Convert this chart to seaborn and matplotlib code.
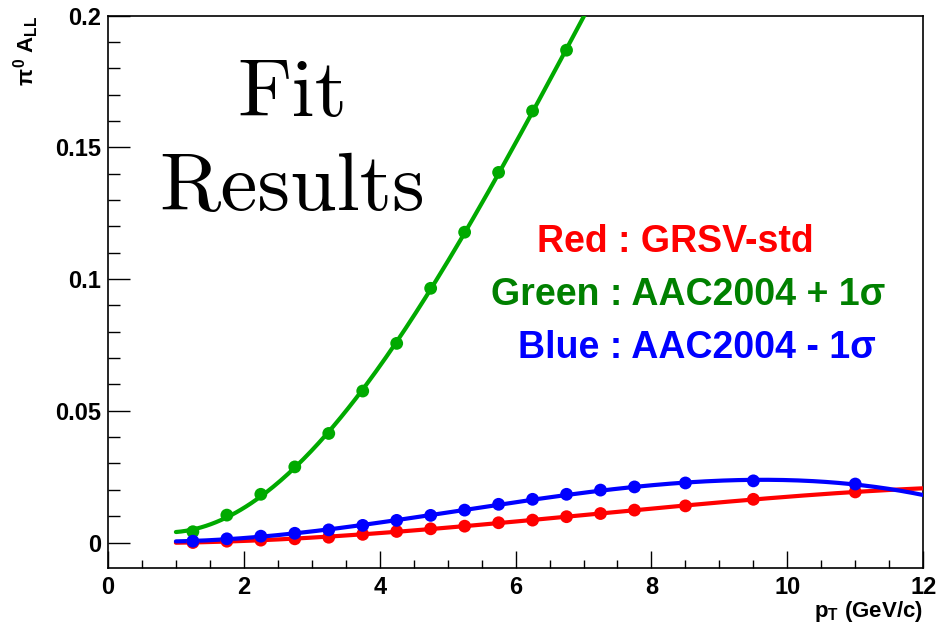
import numpy as np
import pandas as pd
import seaborn as sns
import matplotlib
matplotlib.use("Agg")
import matplotlib.pyplot as plt
from matplotlib.ticker import MultipleLocator, FuncFormatter

# ---- data ----
x_pt = [1.25, 1.75, 2.25, 2.75, 3.25, 3.75, 4.25, 4.75, 5.25, 5.75, 6.25, 6.75,
        7.25, 7.75, 8.5, 9.5, 11.0]
red_vals = [0.0000, 0.0005, 0.0009, 0.0014, 0.0020, 0.0031, 0.0042, 0.0052, 0.0062,
            0.0075, 0.0085, 0.0098, 0.0110, 0.0123, 0.0139, 0.0164, 0.0192]
blue_vals = [0.0005, 0.0014, 0.0024, 0.0035, 0.0048, 0.0065, 0.0084, 0.0103, 0.0123,
             0.0145, 0.0164, 0.0183, 0.0199, 0.0211, 0.0226, 0.0234, 0.0222]
x_green = [1.25, 1.75, 2.25, 2.75, 3.25, 3.75, 4.25, 4.75, 5.25, 5.75, 6.25, 6.75]
green_vals = [0.0041, 0.0104, 0.0183, 0.0287, 0.0414, 0.0575, 0.0756, 0.0965,
              0.1178, 0.1405, 0.1638, 0.1869]
fit_range = [1.0, 12.0]
legend_lines = [("Red : GRSV-std", ""), ("Green : AAC2004 + 1", "σ"),
                ("Blue : AAC2004 - 1", "σ")]

sns.set_style("white")
plt.rcParams["font.family"] = ["Liberation Sans", "DejaVu Sans"]
plt.rcParams["font.weight"] = "bold"
plt.rcParams["text.color"] = "black"
plt.rcParams["xtick.color"] = "black"
plt.rcParams["ytick.color"] = "black"
plt.rcParams["mathtext.fontset"] = "custom"
plt.rcParams["mathtext.rm"] = "Liberation Sans:bold"
plt.rcParams["mathtext.bf"] = "Liberation Sans:bold"
plt.rcParams["mathtext.it"] = "Liberation Sans:bold"

RED = "#ff0000"
BLUE = "#0000ff"
GREEN_LINE = "#00aa00"
GREEN_TEXT = "#008000"

fig = plt.figure(figsize=(9.43, 6.27), dpi=100)
ax = fig.add_axes([0.1145, 0.094, 0.8645, 0.881])

xf = np.linspace(fit_range[0], fit_range[1], 300)

def fit_curve(xs, ys, deg=3):
    c = np.polyfit(xs, ys, deg)
    return np.polyval(c, xf)

series = [
    (x_pt, red_vals, RED),
    (x_green, green_vals, GREEN_LINE),
    (x_pt, blue_vals, BLUE),
]
for xs, ys, col in series:
    fit_df = pd.DataFrame({"x": xf, "y": fit_curve(xs, ys)})
    sns.lineplot(data=fit_df, x="x", y="y", ax=ax, color=col, lw=3.0,
                 sort=False, zorder=3)
    pt_df = pd.DataFrame({"x": xs, "y": ys})
    sns.scatterplot(data=pt_df, x="x", y="y", ax=ax, color=col, s=85,
                    edgecolor="none", zorder=4)

ax.set_xlim(0, 12)
ax.set_ylim(-0.0097, 0.2)
ax.xaxis.set_major_locator(MultipleLocator(2))
ax.xaxis.set_minor_locator(MultipleLocator(0.5))
ax.yaxis.set_major_locator(MultipleLocator(0.05))
ax.yaxis.set_minor_locator(MultipleLocator(0.01))
ax.yaxis.set_major_formatter(FuncFormatter(lambda v, p: f"{v:g}"))
ax.xaxis.set_major_formatter(FuncFormatter(lambda v, p: f"{v:g}"))
ax.tick_params(axis="both", which="both", direction="in", color="black",
               labelsize=17, width=1.0, bottom=True, left=True, top=False,
               right=False, labelcolor="black")
ax.tick_params(axis="y", which="major", length=16, pad=5)
ax.tick_params(axis="y", which="minor", length=8.5)
ax.tick_params(axis="x", which="major", length=12, pad=6)
ax.tick_params(axis="x", which="minor", length=6)
for lab in ax.get_xticklabels() + ax.get_yticklabels():
    lab.set_fontweight("bold")
for sp in ax.spines.values():
    sp.set_visible(True)
    sp.set_color("black")
    sp.set_linewidth(1.2)

ax.set_xlabel("")
ax.set_ylabel("")
fig.text(0.979, 0.005, r"$\mathbf{p_{T}}$ (GeV/c)", ha="right", va="bottom",
         fontsize=16, fontweight="bold")
fig.text(0.012, 0.975, r"$\pi^{0}$ $\mathbf{A_{LL}}$", rotation=90, ha="left",
         va="top", fontsize=16, fontweight="bold")

ax.text(0.226, 0.855, "Fit", transform=ax.transAxes, ha="center", va="center",
        fontsize=60, family="cmr10", fontweight="normal")
ax.text(0.226, 0.685, "Results", transform=ax.transAxes, ha="center",
        va="center", fontsize=60, family="cmr10", fontweight="normal")

cols = [RED, GREEN_TEXT, BLUE]
centers = [(0.696, 0.5906), (0.712, 0.4946), (0.7227, 0.3986)]
for (main, sig), col, (cx, cy) in zip(legend_lines, cols, centers):
    if sig:
        txt = main + r"$\sigma$"
    else:
        txt = main
    ax.text(cx, cy, main + sig, transform=ax.transAxes, ha="center",
            va="center", fontsize=27, color=col, fontweight="bold")

fig.savefig("out.png", dpi=100)
